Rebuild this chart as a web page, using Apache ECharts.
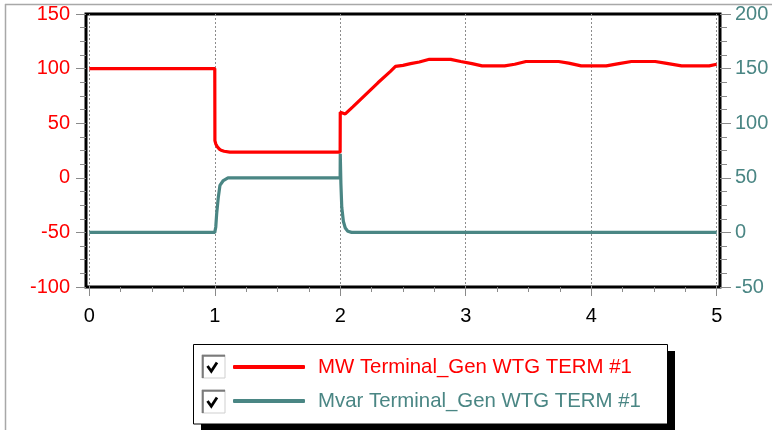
<!DOCTYPE html>
<html>
<head>
<meta charset="utf-8">
<script src="https://cdn.jsdelivr.net/npm/echarts@6/dist/echarts.min.js"></script>
<style>
  html, body { margin: 0; padding: 0; background: #ffffff; }
  #chart { width: 772px; height: 430px; }
</style>
</head>
<body>
<div id="chart"></div>
<script>
// Time axis (s) and sampled values for each trace
const mwName = 'MW Terminal_Gen WTG TERM #1';
const mvarName = 'Mvar Terminal_Gen WTG TERM #1';

const mwTime = [0, 1.0, 1.001, 1.008, 1.02, 1.034, 1.05, 1.074, 1.12, 1.999, 2.0, 2.01, 2.04, 2.1, 2.2, 2.3, 2.4, 2.44, 2.5, 2.56, 2.63, 2.71, 2.88, 2.96, 3.05, 3.13, 3.31, 3.39, 3.48, 3.74, 3.82, 3.92, 4.12, 4.22, 4.32, 4.51, 4.59, 4.72, 4.94, 5.0];
const mwValues = [100, 100, 34, 31, 28.5, 26.5, 25.2, 24.3, 23.5, 23.5, 60, 59, 58.5, 65, 76, 87, 97.5, 102, 103, 104.5, 106, 108.5, 108.5, 106.5, 104.5, 102.5, 102.5, 104, 106.5, 106.5, 105, 102.5, 102.5, 104.5, 106.5, 106.5, 105, 102.5, 102.5, 104];

const mvarTime = [0, 1.0, 1.008, 1.015, 1.028, 1.041, 1.068, 1.105, 1.999, 2.0, 2.005, 2.012, 2.025, 2.04, 2.06, 2.09, 5.0];
const mvarValues = [0, 0, 5, 17, 32, 43, 47.5, 50, 50, 72, 45, 23, 10, 4, 1, 0, 0];

// Axis tick settings
const timeTicks = { min: 0, max: 5, interval: 1 };
const leftTicks = { min: -100, max: 150, interval: 50 };
const rightTicks = { min: -50, max: 200, interval: 50 };

const RED = '#ff0000';
const TEAL = '#4a8684';
const FONT = '"Liberation Sans", Arial, sans-serif';

const zip = (xs, ys) => xs.map((x, i) => [x, ys[i]]);

const chart = echarts.init(document.getElementById('chart'), null, { renderer: 'canvas' });

const tickStyle = { color: '#8a8a8a', width: 1 };

// check box drawn beside each legend row
function checkBox(top) {
  return [
    { type: 'rect', z: 20, shape: { x: 202, y: top, width: 23, height: 23 }, style: { fill: '#ffffff', stroke: '#cfcfcf', lineWidth: 1 } },
    { type: 'polyline', z: 21, shape: { points: [[202.8, top + 23], [202.8, top + 0.8], [225, top + 0.8]] }, style: { stroke: '#7a7a7a', lineWidth: 2, fill: null } },
    { type: 'polyline', z: 21, shape: { points: [[207.5, top + 11], [211.3, top + 16.3], [217, top + 7.5]] }, style: { stroke: '#000000', lineWidth: 2.8, fill: null } }
  ];
}

chart.setOption({
  animation: false,
  backgroundColor: '#ffffff',
  grid: [
    // outer black frame
    { left: 86, right: 52, top: 14, bottom: 143, show: true, borderColor: '#000000', borderWidth: 3, backgroundColor: 'transparent' },
    // data area
    { left: 89.3, right: 55.3, top: 14, bottom: 143 }
  ],
  xAxis: [
    {
      type: 'value', gridIndex: 1,
      min: timeTicks.min, max: timeTicks.max, interval: timeTicks.interval,
      axisLine: { show: false, onZero: false },
      axisTick: { show: true, length: 9, lineStyle: tickStyle },
      minorTick: { show: true, splitNumber: 4, length: 5, lineStyle: tickStyle },
      splitLine: { show: true, lineStyle: { color: '#8c8c8c', width: 1, type: [2, 2] } },
      axisLabel: { color: '#000000', fontSize: 20, fontFamily: FONT, margin: 19 }
    },
    { type: 'value', gridIndex: 0, show: false, min: 0, max: 1 }
  ],
  yAxis: [
    {
      type: 'value', gridIndex: 1, position: 'left', offset: 3.3,
      min: leftTicks.min, max: leftTicks.max, interval: leftTicks.interval,
      axisLine: { show: false, onZero: false },
      axisTick: { show: true, length: 10, lineStyle: tickStyle },
      minorTick: { show: true, splitNumber: 4, length: 6, lineStyle: tickStyle },
      splitLine: { show: false },
      axisLabel: { color: RED, fontSize: 20, fontFamily: FONT, margin: 16 }
    },
    {
      type: 'value', gridIndex: 1, position: 'right', offset: 3.3,
      min: rightTicks.min, max: rightTicks.max, interval: rightTicks.interval,
      axisLine: { show: false, onZero: false },
      axisTick: { show: true, length: 11, lineStyle: tickStyle },
      minorTick: { show: true, splitNumber: 4, length: 7, lineStyle: tickStyle },
      splitLine: { show: false },
      axisLabel: { color: TEAL, fontSize: 20, fontFamily: FONT, margin: 15 }
    },
    { type: 'value', gridIndex: 0, show: false, min: 0, max: 1 }
  ],
  legend: {
    orient: 'vertical',
    left: 233, top: 357,
    padding: 0,
    itemWidth: 72, itemHeight: 4, itemGap: 14,
    icon: 'roundRect',
    textStyle: { fontSize: 20.4, lineHeight: 20, fontFamily: FONT, padding: [0, 0, 0, 8] },
    data: [
      { name: mwName, textStyle: { color: RED } },
      { name: mvarName, textStyle: { color: TEAL } }
    ],
    z: 10
  },
  graphic: [
    // outer light border
    { type: 'line', z: 1, shape: { x1: 5.5, y1: 4, x2: 5.5, y2: 430 }, style: { stroke: '#a8a8a8', lineWidth: 1.5 } },
    { type: 'line', z: 1, shape: { x1: 5, y1: 4.5, x2: 772, y2: 4.5 }, style: { stroke: '#a8a8a8', lineWidth: 1.5 } },
    // legend panel with drop shadow
    { type: 'rect', z: 2, shape: { x: 201, y: 351, width: 474, height: 90 }, style: { fill: '#000000' } },
    { type: 'rect', z: 3, shape: { x: 193.5, y: 344.5, width: 474, height: 79.5 }, style: { fill: '#ffffff', stroke: '#000000', lineWidth: 1 } }
  ].concat(checkBox(355), checkBox(390)),
  series: [
    {
      name: mwName, type: 'line', xAxisIndex: 0, yAxisIndex: 0,
      data: zip(mwTime, mwValues),
      showSymbol: false, symbol: 'none',
      color: RED,
      lineStyle: { color: RED, width: 3.2 },
      z: 3
    },
    {
      name: mvarName, type: 'line', xAxisIndex: 0, yAxisIndex: 1,
      data: zip(mvarTime, mvarValues),
      showSymbol: false, symbol: 'none',
      color: TEAL,
      lineStyle: { color: TEAL, width: 3.2 },
      z: 4
    }
  ]
});
</script>
</body>
</html>
